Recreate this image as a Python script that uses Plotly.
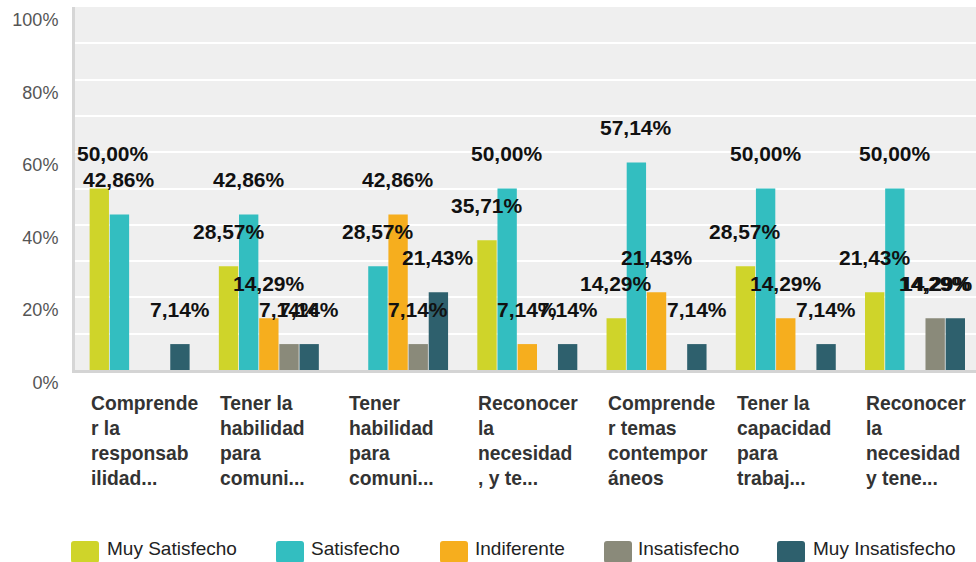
import plotly.graph_objects as go

# ── Data ──
categories = [
    "Comprender la responsabilidad...",
    "Tener la habilidad para comuni...",
    "Tener habilidad para comuni...",
    "Reconocer la necesidad, y te...",
    "Comprender temas contemporáneos",
    "Tener la capacidad para trabaj...",
    "Reconocer la necesidad y tene...",
]
category_lines = [
    ["Comprende", "r la", "responsab", "ilidad..."],
    ["Tener la", "habilidad", "para", "comuni..."],
    ["Tener", "habilidad", "para", "comuni..."],
    ["Reconocer", "la", "necesidad", ", y te..."],
    ["Comprende", "r temas", "contempor", "áneos"],
    ["Tener la", "capacidad", "para", "trabaj..."],
    ["Reconocer", "la", "necesidad", "y tene..."],
]
series_names = ["Muy Satisfecho", "Satisfecho", "Indiferente", "Insatisfecho", "Muy Insatisfecho"]
muy_satisfecho = [50.00, 28.57, 0, 35.71, 14.29, 28.57, 21.43]
satisfecho = [42.86, 42.86, 28.57, 50.00, 57.14, 50.00, 50.00]
indiferente = [0, 14.29, 42.86, 7.14, 21.43, 14.29, 0]
insatisfecho = [0, 7.14, 7.14, 0, 0, 0, 14.29]
muy_insatisfecho = [7.14, 7.14, 21.43, 7.14, 7.14, 7.14, 14.29]
y_ticks = [0, 20, 40, 60, 80, 100]

series_values = [muy_satisfecho, satisfecho, indiferente, insatisfecho, muy_insatisfecho]
colors = ["#cfd42a", "#33bec0", "#f6ae1e", "#8a8a7a", "#2e606d"]

FONT = "Liberation Sans, Arial, sans-serif"

# ── Geometry (pixels) ──
W, H = 976, 562
L, R, T, B = 75, 0, 7, 192
PW, PH = W - L - R, H - T - B
X_MAX = 6.472
BARGAP = 0.22
cat_w = PW / (X_MAX + 0.5)
slot = cat_w * (1 - BARGAP) / len(series_names)


def px_x(p):
    return (p - L) / PW


def px_y(p):
    return (H - B - p) / PH


def fmt(v):
    return f"{v:.2f}".replace(".", ",") + "%"


fig = go.Figure()

for name, vals, col in zip(series_names, series_values, colors):
    fig.add_trace(go.Bar(
        x=categories, y=vals, name=name,
        marker=dict(color=col, line=dict(width=0)),
        showlegend=False, hoverinfo="x+y+name",
    ))

# value labels above bars (kept inside the plot width)
annotations = []
for i, vals in enumerate(series_values):
    for j, v in enumerate(vals):
        if v == 0:
            continue
        text = fmt(v)
        tw = 11.7 * len(text)
        cx = L + (j + 0.5) * cat_w + (i - 2) * slot
        cx_cl = min(max(cx, L + 3 + tw / 2), W - 4 - tw / 2)
        annotations.append(dict(
            x=categories[j], y=v, xref="x", yref="y",
            text=text, showarrow=False,
            xshift=cx_cl - L - (j + 0.5) * cat_w, yshift=35,
            yanchor="middle",
            font=dict(family=FONT, size=21, color="#111111", weight="bold"),
        ))

# wrapped, left-aligned category labels
for j, lines in enumerate(category_lines):
    annotations.append(dict(
        x=categories[j], y=0, xref="x", yref="paper",
        text="<br>".join(lines), showarrow=False,
        xanchor="left", yanchor="top", align="left",
        xshift=-51, yshift=-21,
        font=dict(family=FONT, size=19.3, color="#333333", weight="bold"),
    ))

# custom legend
legend_swatch_x = [71, 276, 440, 604, 777]
legend_text_x = [105, 309, 473, 636, 811]
shapes = []
for name, col, sx, tx in zip(series_names, colors, legend_swatch_x, legend_text_x):
    x0, x1 = px_x(sx), px_x(sx + 28)
    y0, y1 = px_y(563), px_y(541)
    rx, ry = 3 / PW, 3 / PH
    path = (f"M{x0 + rx},{y0} L{x1 - rx},{y0} Q{x1},{y0} {x1},{y0 + ry} "
            f"L{x1},{y1 - ry} Q{x1},{y1} {x1 - rx},{y1} L{x0 + rx},{y1} "
            f"Q{x0},{y1} {x0},{y1 - ry} L{x0},{y0 + ry} Q{x0},{y0} {x0 + rx},{y0} Z")
    shapes.append(dict(type="path", path=path, xref="paper", yref="paper",
                       fillcolor=col, line=dict(width=0)))
    annotations.append(dict(
        x=px_x(tx), y=px_y(548), xref="paper", yref="paper",
        text=name, showarrow=False, xanchor="left", yanchor="middle",
        font=dict(family=FONT, size=19, color="#222222"),
    ))

fig.update_layout(
    width=W, height=H,
    margin=dict(l=L, r=R, t=T, b=B),
    paper_bgcolor="white",
    plot_bgcolor="#efefef",
    barmode="group",
    bargap=BARGAP,
    bargroupgap=0.04,
    annotations=annotations,
    shapes=shapes,
    showlegend=False,
)

fig.update_xaxes(
    range=[-0.5, X_MAX],
    showticklabels=False,
    showgrid=False,
    showline=True, linecolor="#d4d4d4", linewidth=3,
    fixedrange=True,
)
fig.update_yaxes(
    range=[0, 100],
    tickvals=y_ticks,
    ticktext=[f"{t}%" for t in y_ticks],
    ticklabelposition="outside bottom",
    ticklabelstandoff=10,
    tickfont=dict(family=FONT, size=18, color="#555555"),
    showgrid=True, gridcolor="white", gridwidth=2,
    minor=dict(dtick=10, showgrid=True, gridcolor="white", gridwidth=2),
    showline=True, linecolor="#d6d6d6", linewidth=3,
    zeroline=False,
    fixedrange=True,
)

fig.write_html(
    "out.html",
    config={"displayModeBar": False},
    post_script="document.body.style.margin='0';",
)
